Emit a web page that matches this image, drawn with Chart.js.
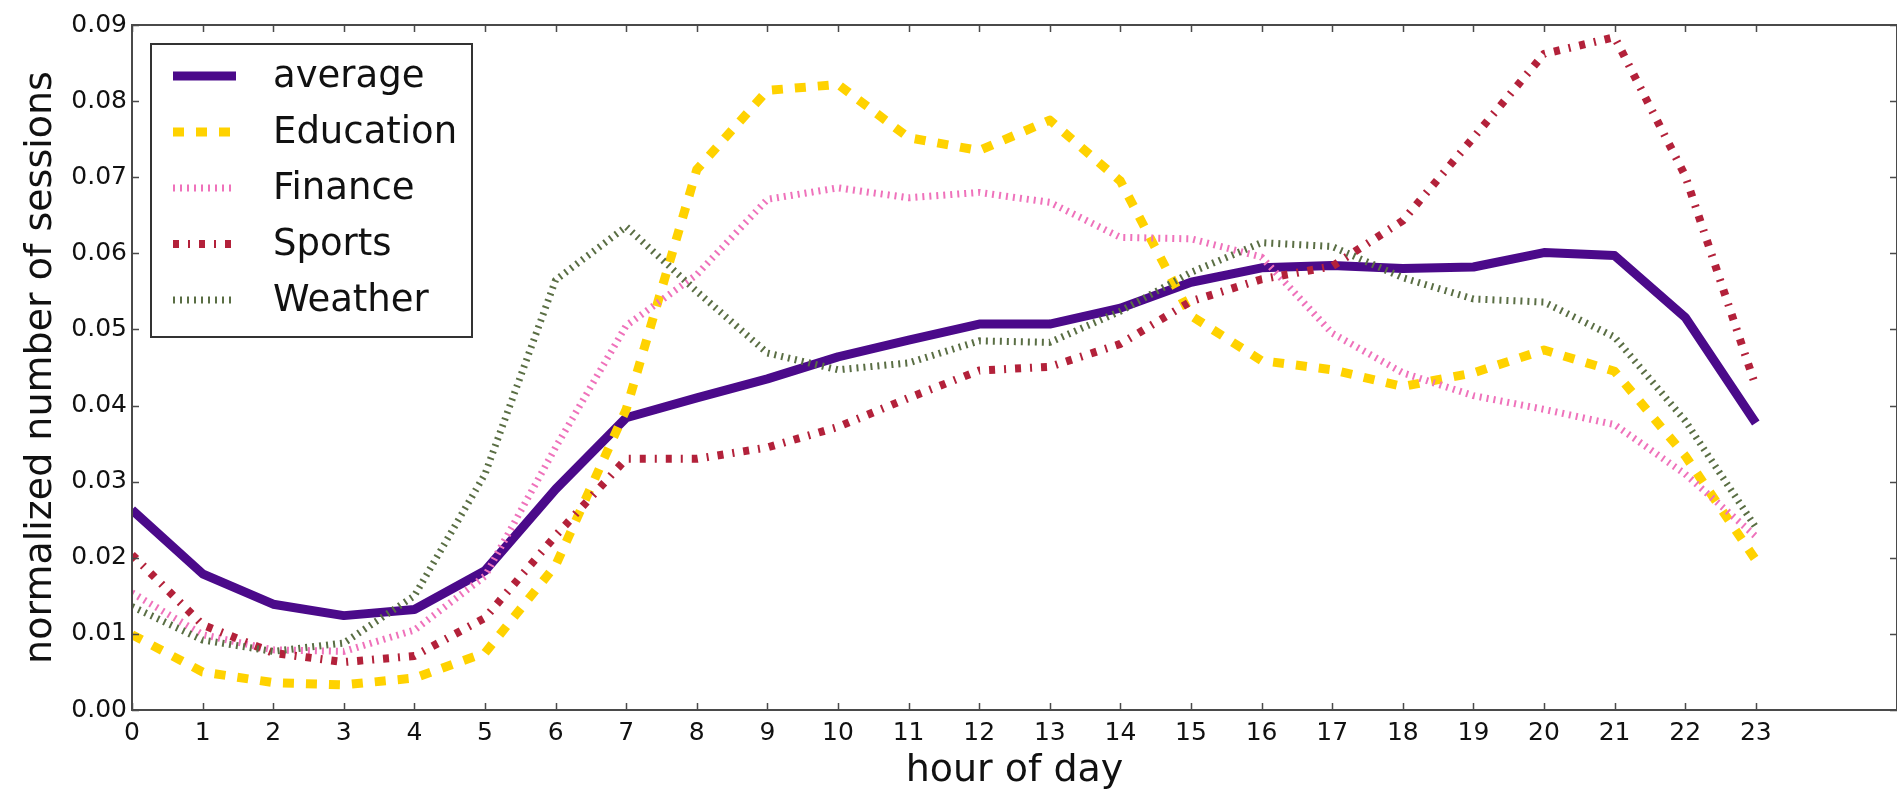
<!DOCTYPE html>
<html>
<head>
<meta charset="utf-8">
<script src="https://cdn.jsdelivr.net/npm/chart.js@4.4.1/dist/chart.umd.min.js"></script>
<style>
  html, body { margin: 0; padding: 0; background: #ffffff; }
  #wrap { width: 1897px; height: 792px; position: relative; }
</style>
</head>
<body>
<div id="wrap"><canvas id="c" width="1897" height="792"></canvas></div>
<script>
const hours = [0,1,2,3,4,5,6,7,8,9,10,11,12,13,14,15,16,17,18,19,20,21,22,23];
const seriesNames = ['average', 'Education', 'Finance', 'Sports', 'Weather'];
const average   = [0.0263,0.0179,0.0139,0.0124,0.0132,0.0183,0.0290,0.0384,0.0410,0.0435,0.0464,0.0486,0.0507,0.0507,0.0528,0.0562,0.0581,0.0584,0.0580,0.0582,0.0601,0.0597,0.0516,0.0377];
const education = [0.0099,0.0050,0.0036,0.0033,0.0042,0.0075,0.0190,0.0395,0.0710,0.0814,0.0822,0.0752,0.0735,0.0775,0.0695,0.0518,0.0459,0.0447,0.0425,0.0443,0.0473,0.0445,0.0334,0.0197];
const finance   = [0.0154,0.0099,0.0079,0.0077,0.0105,0.0176,0.0345,0.0505,0.0572,0.0671,0.0686,0.0673,0.0680,0.0667,0.0621,0.0619,0.0595,0.0495,0.0443,0.0413,0.0395,0.0375,0.0310,0.0228];
const sports    = [0.0204,0.0112,0.0075,0.0063,0.0071,0.0121,0.0229,0.0330,0.0330,0.0345,0.0372,0.0410,0.0446,0.0451,0.0481,0.0537,0.0566,0.0583,0.0643,0.0752,0.0862,0.0884,0.0702,0.0425];
const weather   = [0.0136,0.0092,0.0077,0.0088,0.0150,0.0310,0.0565,0.0635,0.0550,0.0469,0.0447,0.0456,0.0485,0.0483,0.0524,0.0575,0.0614,0.0609,0.0568,0.0540,0.0536,0.0490,0.0380,0.0240];
const yTicks = [0.00,0.01,0.02,0.03,0.04,0.05,0.06,0.07,0.08,0.09];
const xTitle = 'hour of day';
const yTitle = 'normalized number of sessions';

const values = [average, education, finance, sports, weather];
const styles = [
  { color: '#4b0a8a', width: 9, dash: [] },
  { color: '#ffd200', width: 9, dash: [11, 12] },
  { color: '#ef72bb', width: 7, dash: [2, 5] },
  { color: '#b3213a', width: 8, dash: [6, 9, 2, 9] },
  { color: '#5a6e44', width: 7, dash: [2, 5] }
];

const FONT = "'DejaVu Sans', sans-serif";
const AXIS = '#4a4a4a';

const datasets = seriesNames.map((name, i) => ({
  label: name,
  data: hours.map((h, k) => ({ x: h, y: values[i][k] })),
  borderColor: styles[i].color,
  backgroundColor: styles[i].color,
  borderWidth: styles[i].width,
  borderDash: styles[i].dash,
  borderJoinStyle: 'round',
  borderCapStyle: 'butt',
  pointRadius: 0,
  pointHoverRadius: 0,
  tension: 0,
  fill: false,
  clip: 0,
  order: -i
}));

const frameAndTicks = {
  id: 'frameAndTicks',
  afterDraw(chart) {
    const { ctx, chartArea: a, scales: { x, y } } = chart;
    ctx.save();
    ctx.strokeStyle = AXIS;
    ctx.lineWidth = 2;
    ctx.strokeRect(a.left, a.top, a.right - a.left, a.bottom - a.top);
    const L = 7;
    ctx.lineWidth = 1.5;
    ctx.beginPath();
    x.ticks.forEach(t => {
      const px = Math.round(x.getPixelForValue(t.value)) + 0.5;
      ctx.moveTo(px, a.bottom); ctx.lineTo(px, a.bottom - L);
      ctx.moveTo(px, a.top); ctx.lineTo(px, a.top + L);
    });
    y.ticks.forEach(t => {
      const py = Math.round(y.getPixelForValue(t.value)) + 0.5;
      ctx.moveTo(a.left, py); ctx.lineTo(a.left + L, py);
      ctx.moveTo(a.right, py); ctx.lineTo(a.right - L, py);
    });
    ctx.stroke();
    ctx.restore();
  }
};

const boxLegend = {
  id: 'boxLegend',
  afterDraw(chart) {
    const { ctx, chartArea: a } = chart;
    const left = a.left + 19, top = a.top + 19, w = 321, h = 293;
    ctx.save();
    ctx.fillStyle = '#ffffff';
    ctx.fillRect(left, top, w, h);
    ctx.strokeStyle = '#333333';
    ctx.lineWidth = 2;
    ctx.strokeRect(left, top, w, h);
    ctx.font = '37px ' + FONT;
    ctx.textBaseline = 'middle';
    ctx.textAlign = 'left';
    chart.data.datasets.forEach((ds, i) => {
      const cy = top + 32 + i * 56;
      ctx.beginPath();
      ctx.strokeStyle = ds.borderColor;
      ctx.lineWidth = ds.borderWidth;
      ctx.setLineDash(ds.borderDash);
      ctx.lineCap = 'butt';
      ctx.moveTo(left + 22, cy);
      ctx.lineTo(left + 85, cy);
      ctx.stroke();
      ctx.setLineDash([]);
      ctx.fillStyle = '#111111';
      ctx.fillText(ds.label, left + 122, cy + 1);
    });
    ctx.restore();
  }
};

new Chart(document.getElementById('c'), {
  type: 'line',
  data: { datasets },
  options: {
    responsive: false,
    animation: false,
    events: [],
    layout: { padding: { top: 25, right: 0, left: 0, bottom: 0 } },
    plugins: { legend: { display: false }, tooltip: { enabled: false } },
    scales: {
      x: {
        type: 'linear',
        min: 0, max: 25,
        afterBuildTicks: (s) => { s.ticks = hours.map(h => ({ value: h })); },
        afterFit: (s) => { s.height = 82; },
        grid: { display: false, drawTicks: false },
        border: { display: false },
        ticks: {
          color: '#111111', padding: 8,
          font: { family: FONT, size: 25 },
          callback: (v) => String(v),
          maxRotation: 0, autoSkip: false
        },
        title: {
          display: true, text: xTitle, color: '#111111',
          font: { family: FONT, size: 38, lineHeight: 1 },
          padding: { top: 0, bottom: 2 }
        }
      },
      y: {
        type: 'linear',
        min: 0, max: 0.09,
        afterBuildTicks: (s) => { s.ticks = yTicks.map(v => ({ value: v })); },
        afterFit: (s) => { s.width = 132; },
        grid: { display: false, drawTicks: false },
        border: { display: false },
        ticks: {
          color: '#111111', padding: 5,
          font: { family: FONT, size: 25 },
          callback: (v) => Number(v).toFixed(2),
          autoSkip: false
        },
        title: {
          display: true, text: yTitle, color: '#111111',
          font: { family: FONT, size: 38, lineHeight: 1 },
          padding: { top: 22, bottom: 0 }
        }
      }
    }
  },
  plugins: [frameAndTicks, boxLegend]
});
</script>
</body>
</html>
